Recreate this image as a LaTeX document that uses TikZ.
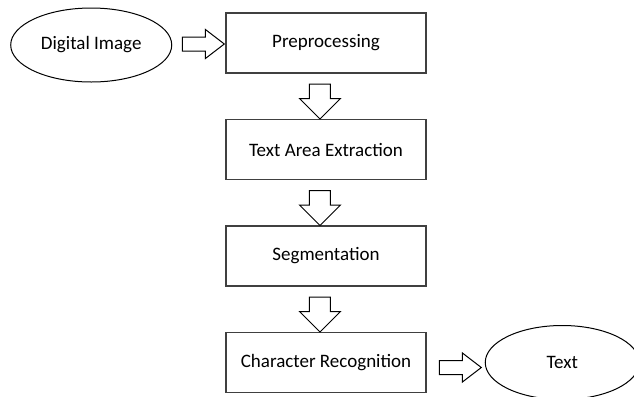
\documentclass[tikz,border=0pt]{standalone}
\usepackage{fontspec}
\setmainfont{Carlito}
\usetikzlibrary{shapes.geometric,shapes.arrows,positioning,calc}

\begin{document}
\begin{tikzpicture}[font=\fontsize{9.5}{11}\selectfont, node distance=22.5pt]

  \tikzstyle{stage}=[draw=black!75, line width=0.75pt, minimum width=100pt, minimum height=30pt]
  \tikzstyle{terminal}=[ellipse, draw=black, line width=0.5pt, minimum width=77pt, minimum height=37pt]
  \tikzstyle{downarrow}=[single arrow, draw, line width=0.5pt, rotate=-90, minimum height=17.5pt, inner xsep=0pt, inner ysep=5pt, single arrow head extend=5pt]
  \tikzstyle{sidearrow}=[single arrow, draw, line width=0.5pt, minimum height=21pt, inner xsep=0pt, inner ysep=3.25pt, single arrow head extend=3.75pt, single arrow tip angle=75]

  \useasboundingbox (0,0) rectangle (317pt,-198.5pt);

  \node[stage]    (pre) at (163pt,-21.5pt) {Preprocessing};
  \node[stage]    (tae) [below=of pre]      {Text Area Extraction};
  \node[stage]    (seg) [below=of tae]      {Segmentation};
  \node[stage]    (rec) [below=of seg]      {Character Recognition};
  \node[terminal] (dig) [left=26.5pt of pre, yshift=-1pt] {Digital Image};
  \node[terminal] (txt) [right=29pt of rec] {Text};

  \node[sidearrow] (a1) at ($(dig.east)!0.5!(pre.west)$) {};
  \node[downarrow] (a2) at ($(pre.south)!0.5!(tae.north)+(-3pt,0)$) {};
  \node[downarrow] (a3) at ($(tae.south)!0.5!(seg.north)+(-3pt,0)$) {};
  \node[downarrow] (a4) at ($(seg.south)!0.5!(rec.north)+(-3pt,0)$) {};
  \node[sidearrow] (a5) at ($(rec.east)!0.5!(txt.west)+(0,-2.5pt)$) {};
\end{tikzpicture}
\end{document}
